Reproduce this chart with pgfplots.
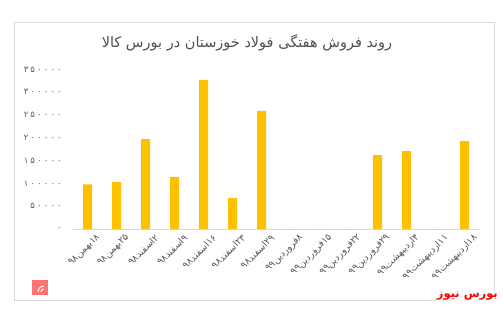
\documentclass[border=0pt]{standalone}
\usepackage{fontspec}
\usepackage{pgfplots}
\pgfplotsset{compat=1.18}
\setmainfont{DejaVu Sans}
\newfontfamily\fa[Script=Arabic]{DejaVu Sans}
\newfontfamily\fanum[Script=Arabic, LetterSpace=25]{DejaVu Sans}
\TeXXeTstate=1
\newcommand\rl[1]{{\fa\beginR #1\endR}}
\definecolor{bar}{HTML}{FFC000}
\definecolor{axisgray}{HTML}{D9D9D9}
\definecolor{txt}{HTML}{595959}
\definecolor{frame}{HTML}{D9D9D9}
\begin{document}
\begin{tikzpicture}[x=1pt,y=1pt]
\path[use as bounding box] (0,0) rectangle (503,308);
\draw[frame, line width=0.8pt] (14,8) rectangle (494,286);
\node[text=txt!90!black, font=\fontsize{14.5}{16}\selectfont\fa] at (247,265) {\beginR روند فروش هفتگی فولاد خوزستان در بورس کالا\endR};
\begin{axis}[
  at={(73pt,79pt)}, anchor=south west,
  scale only axis, width=406pt, height=159.5pt,
  xmin=-0.5, xmax=13.5, ymin=0, ymax=350000,
  axis x line*=bottom, axis y line*=left,
  x axis line style={axisgray, line width=1pt, -},
  y axis line style={draw=none},
  ytick={0,50000,100000,150000,200000,250000,300000,350000},
  yticklabels={۰,۵۰۰۰۰,۱۰۰۰۰۰,۱۵۰۰۰۰,۲۰۰۰۰۰,۲۵۰۰۰۰,۳۰۰۰۰۰,۳۵۰۰۰۰},
  scaled y ticks=false,
  xtick={0,...,13},
  xticklabels={\rl{۱۸بهمن۹۸},\rl{۲۵بهمن۹۸},\rl{۲اسفند۹۸},\rl{۹اسفند۹۸},\rl{۱۶اسفند۹۸},\rl{۲۳اسفند۹۸},\rl{۲۹اسفند۹۸},\rl{۸فروردین۹۹},\rl{۱۵فروردین۹۹},\rl{۲۲فروردین۹۹},\rl{۲۹فروردین۹۹},\rl{۴اردیبهشت۹۹},\rl{۱۱اردیبهشت۹۹},\rl{۱۸اردیبهشت۹۹}},
  major tick length=0pt,
  x tick label style={rotate=45, anchor=east, font=\fontsize{9.5}{10}\selectfont\fa, text=txt, yshift=-13pt, xshift=3pt, inner sep=0pt},
  y tick label style={font=\fontsize{8.5}{9}\selectfont\fanum, text=txt, anchor=east, xshift=-11pt, inner sep=0pt},
  ytick style={draw=none}, xtick style={draw=none},
  clip=false,
]
\addplot[ybar, bar width=9pt, fill=bar, draw=none, bar shift=0pt] coordinates {
(0,98000) (1,103000) (2,197000) (3,114000) (4,327000) (5,68000) (6,259000)
(7,0) (8,0) (9,0) (10,162000) (11,171000) (12,0) (13,193000)};
\end{axis}
\fill[red!55!white] (32,13) rectangle (48,28);
\draw[white, line width=1pt] (38,16) arc (180:90:6);
\draw[white, line width=1pt] (41,16) arc (180:90:3);
\node[anchor=east, fill=white, inner sep=1pt, text=red, font=\fontsize{11.5}{14}\selectfont\bfseries\fa] at (499,12) {\beginR بورس نیوز\endR};
\end{tikzpicture}
\end{document}
